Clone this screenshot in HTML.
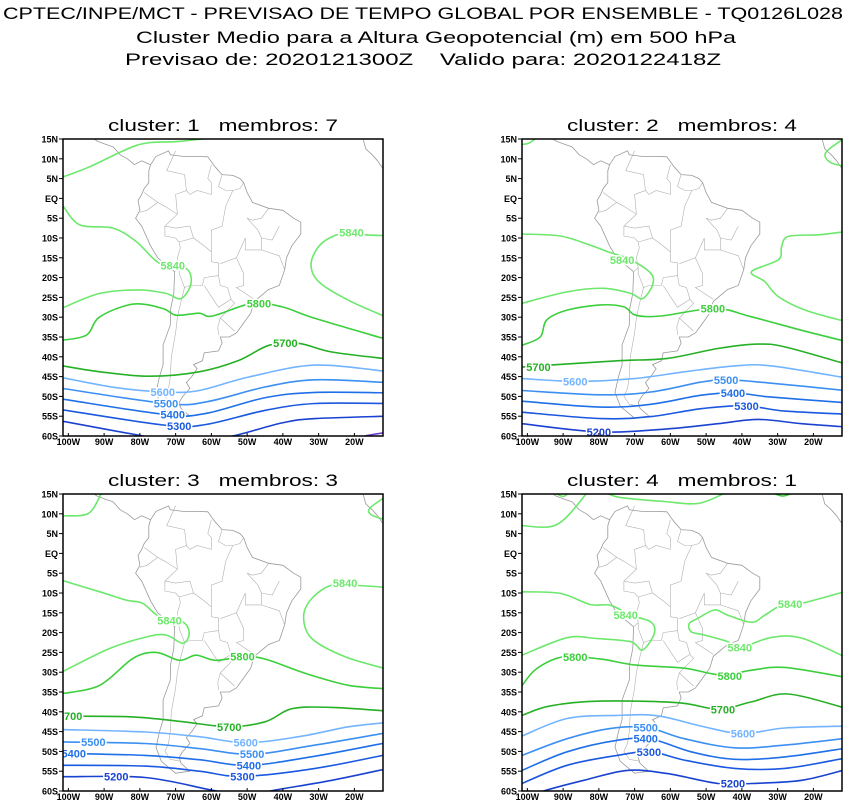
<!DOCTYPE html>
<html><head><meta charset="utf-8">
<style>
body{margin:0;background:#fff;}
svg{display:block;}
text{white-space:pre;}
</style></head>
<body>
<svg id="chart" width="847" height="803" viewBox="0 0 847 803" xmlns="http://www.w3.org/2000/svg" font-family="Liberation Sans, sans-serif">
<g text-anchor="middle" font-size="17" fill="#000">
<text x="423" y="19" textLength="840" lengthAdjust="spacingAndGlyphs">CPTEC/INPE/MCT - PREVISAO DE TEMPO GLOBAL POR ENSEMBLE - TQ0126L028</text>
<text x="436" y="43" textLength="600" lengthAdjust="spacingAndGlyphs">Cluster Medio para a Altura Geopotencial (m) em 500 hPa</text>
<text x="423" y="65" textLength="596" lengthAdjust="spacingAndGlyphs">Previsao de: 2020121300Z    Valido para: 2020122418Z</text>
</g>
<g id="panels"></g>
</svg>
<script>
// ---------- data ----------
const panelTitles = ["cluster: 1   membros: 7","cluster: 2   membros: 4","cluster: 3   membros: 3","cluster: 4   membros: 1"];
const latTicks = [15,10,5,0,-5,-10,-15,-20,-25,-30,-35,-40,-45,-50,-55,-60];
const latTickLabels = ["15N","10N","5N","EQ","5S","10S","15S","20S","25S","30S","35S","40S","45S","50S","55S","60S"];
const lonTicks = [-100,-90,-80,-70,-60,-50,-40,-30,-20];
const lonTickLabels = ["100W","90W","80W","70W","60W","50W","40W","30W","20W"];
const levelColors = {5840:"#6ce86c",5800:"#3ccf3c",5700:"#26b026",5600:"#72b4ff",5500:"#3c8ff2",5400:"#1f6fe8",5300:"#1a58e0",5200:"#1a42d0",5100:"#6a3cd0"};

const panel1Contours = [
 {level:5840, pts:[[-101.5,5.4],[-94,8],[-84,12.3],[-78,14],[-69,14.4],[-59,15.4]]},
 {level:5840, pts:[[-101.5,-1.9],[-96.8,-6.7],[-87.5,-7.5],[-81,-10.9],[-74.5,-16.4],[-67.1,-17.7],[-65.7,-21.5],[-68.5,-25.3],[-72.7,-24],[-80.1,-23.1],[-91.2,-24],[-101.5,-27.6]]},
 {level:5840, pts:[[-11,-9.4],[-17,-9.2],[-22.6,-8.6],[-29.1,-11.3],[-32.1,-16.4],[-30,-21],[-21.7,-25.7],[-11,-30]]},
 {level:5800, pts:[[-101.5,-35.8],[-94.9,-34.5],[-91.2,-29.9],[-81.9,-26.7],[-73.6,-27.8],[-69.9,-29.5],[-63.4,-29],[-59.7,-29.7],[-48.6,-26.5],[-40.2,-27.4],[-31,-30.3],[-11,-35.6]]},
 {level:5700, pts:[[-101.5,-42.3],[-91.2,-43.8],[-77.3,-44.9],[-63.4,-43.8],[-52.3,-40.9],[-43.9,-37.1],[-35.6,-36.6],[-26.3,-38.8],[-11,-40.5]]},
 {level:5600, pts:[[-101.5,-45.3],[-86.6,-47.8],[-72.7,-48.9],[-63.4,-48.5],[-49.5,-45.1],[-31,-42.1],[-11,-43.7]]},
 {level:5500, pts:[[-101.5,-48],[-72.7,-51.8],[-61.5,-51.4],[-44.9,-47.6],[-31,-45.8],[-11,-46.5]]},
 {level:5400, pts:[[-101.5,-50.7],[-72.7,-54.6],[-61.5,-54.3],[-44.9,-50.3],[-31,-49],[-11,-49.1]]},
 {level:5300, pts:[[-101.5,-53.4],[-72.7,-57.3],[-61.5,-57.1],[-44.9,-53.5],[-31,-51.8],[-11,-51.8]]},
 {level:5200, pts:[[-101.5,-56.3],[-79.1,-60],[-67,-61.8],[-54.1,-60],[-40.2,-56.7],[-31,-55.6],[-11,-55]]},
 {level:5100, pts:[[-20,-61],[-17,-60],[-11,-59.1]]}
];
const panel1Labels = [[5840,-70.8,-17],[5840,-20.8,-8.6],[5800,-46.7,-26.5],[5700,-39.3,-36.5],[5600,-73.6,-48.9],[5500,-72.7,-51.8],[5400,-70.8,-54.6],[5300,-69,-57.5]];

const panel2Contours = [
 {level:5840, pts:[[-101.5,13.6],[-99.5,14],[-97.4,15.3]]},
 {level:5840, pts:[[-11,15.4],[-15.8,12.3],[-16.7,10.6],[-14.8,8.9],[-11,8.1]]},
 {level:5840, pts:[[-101.5,-9],[-90.8,-9.5],[-82.4,-11.8],[-77.7,-13.4],[-71.1,-15.5],[-65.5,-18.9],[-65,-21.9],[-67.8,-25.3],[-71.1,-24],[-78.6,-22.7],[-88.9,-23.6],[-101.5,-26.5]]},
 {level:5840, pts:[[-11,-8.4],[-18.6,-9.2],[-27,-9.6],[-28.9,-12.2],[-29.8,-15.5],[-37.3,-18.5],[-33.6,-21],[-29.8,-24.8],[-22.3,-28.2],[-11,-31.1]]},
 {level:5800, pts:[[-101.5,-37.1],[-96.4,-35],[-94.6,-30.7],[-88.9,-28.2],[-79.5,-26.9],[-73,-27.4],[-69.7,-29.5],[-62.7,-29.7],[-47.7,-27.8],[-37.3,-29.9],[-23.3,-33.3],[-11,-36.1]]},
 {level:5700, pts:[[-101.5,-42.6],[-93.6,-42.1],[-74.9,-41],[-60.8,-40.4],[-46.7,-37.9],[-35.5,-36.8],[-28,-37.5],[-11,-41.8]]},
 {level:5600, pts:[[-101.5,-45.5],[-86.1,-46.2],[-70.2,-45.5],[-56.1,-43.8],[-42,-42.3],[-31.7,-42.3],[-11,-45.3]]},
 {level:5500, pts:[[-101.5,-48.5],[-79.5,-49.6],[-65.5,-48.9],[-51.4,-46.4],[-43.9,-45.8],[-32.6,-46.6],[-11,-48.5]]},
 {level:5400, pts:[[-101.5,-51.2],[-79.5,-52.7],[-65.5,-52],[-51.4,-49.7],[-42,-49.1],[-32.6,-50.1],[-11,-51.6]]},
 {level:5300, pts:[[-101.5,-54],[-79.5,-55.6],[-65.5,-55.1],[-51.4,-53.1],[-39.2,-52.4],[-27.9,-53.7],[-11,-54.5]]},
 {level:5200, pts:[[-101.5,-56.9],[-79.5,-59],[-60.8,-58.2],[-46.7,-56.9],[-35.5,-55.8],[-23.3,-56.9],[-11,-57.7]]}
];
const panel2Labels = [[5840,-73.5,-15.5],[5800,-48.1,-27.8],[5700,-96.9,-42.6],[5600,-86.6,-46.2],[5500,-44.4,-45.8],[5400,-42.5,-49.1],[5300,-38.7,-52.4],[5200,-80,-59]];

const panel3Contours = [
 {level:5840, pts:[[-101.5,9.5],[-94.4,10.1],[-90.7,15.3]]},
 {level:5840, pts:[[-11,14.5],[-15.7,11.4],[-15.2,9.7],[-11,8.4]]},
 {level:5840, pts:[[-101.5,-6.9],[-91.2,-9.7],[-83.8,-11.8],[-79.2,-12.6],[-74.5,-16],[-68,-17.3],[-66.2,-20.2],[-68,-22.7],[-72.7,-20.6],[-78.2,-21.1],[-88.4,-24],[-101.5,-29.8]]},
 {level:5840, pts:[[-11,-8.6],[-18.9,-8.1],[-26.3,-8],[-31.9,-11.4],[-34.2,-16],[-31.9,-21.5],[-22.6,-26.1],[-11,-29.2]]},
 {level:5800, pts:[[-101.5,-35.4],[-91.2,-33.3],[-81.9,-26.5],[-75.4,-25],[-68.9,-27],[-64.3,-25.7],[-58.8,-27],[-51.3,-26.1],[-44.9,-26.7],[-33.7,-30.3],[-21.7,-33.3],[-11,-34.2]]},
 {level:5700, pts:[[-101.5,-41.1],[-81.9,-41.3],[-68,-42.5],[-55.1,-43.8],[-44.9,-42.5],[-37.4,-39.2],[-26.3,-38.9],[-11,-39.8]]},
 {level:5600, pts:[[-101.5,-44.5],[-78.5,-45.1],[-63.4,-46.3],[-50.4,-47.8],[-35.6,-46.3],[-21.7,-43.8],[-11,-42.7]]},
 {level:5500, pts:[[-101.5,-47.6],[-78.5,-48],[-63.4,-49.3],[-48.6,-50.7],[-31,-48.4],[-11,-45.3]]},
 {level:5400, pts:[[-101.5,-50.5],[-78.5,-51],[-63.4,-52.1],[-49.5,-53.5],[-31,-51.2],[-11,-47.8]]},
 {level:5300, pts:[[-101.5,-53.5],[-78.5,-53.7],[-63.4,-55],[-51.3,-56.3],[-31,-54.3],[-11,-50.8]]},
 {level:5200, pts:[[-101.5,-56.4],[-78.5,-56.6],[-59.8,-59.8],[-50,-61.3],[-43,-59.9],[-26.3,-57.3],[-11,-54.4]]}
];
const panel3Labels = [[5840,-71.7,-17],[5840,-22.6,-7.5],[5800,-51.3,-26],[5700,-99.5,-41.1],[5700,-55,-43.8],[5500,-93,-47.6],[5600,-50.4,-47.8],[5400,-98.5,-50.5],[5500,-48.6,-50.7],[5400,-49.5,-53.5],[5200,-86.6,-56.4],[5300,-51.3,-56.3]];

const panel4Contours = [
 {level:5840, pts:[[-101.5,7],[-91.7,7.3],[-83.3,15.3]]},
 {level:5840, pts:[[-92.2,15.2],[-90,14.4],[-88.5,15.2]]},
 {level:5840, pts:[[-77.7,15.2],[-73.9,14.1],[-61.7,13.1],[-52.3,12.6],[-44.8,15.2]]},
 {level:5800, pts:[[-31.2,15.2],[-28.5,14.5],[-26,15.2]]},
 {level:5840, pts:[[-101.5,-9.7],[-90.8,-10.1],[-82.4,-12.9],[-76.7,-13.1],[-71.1,-15.6],[-65.5,-17.3],[-64.5,-20.2],[-67.8,-24.4],[-71.1,-22.3],[-80.7,-21.5],[-88.9,-21.3],[-101.5,-25.7]]},
 {level:5840, pts:[[-11,-9.6],[-23.3,-12.6],[-28.9,-13.1],[-33.6,-15.6],[-37.3,-17.4],[-43.9,-15.6],[-47.7,-14.3],[-52.3,-16.4],[-54.7,-17.7],[-54.2,-19.8],[-50.5,-20.6],[-43.9,-22.3],[-40.6,-23.8],[-31.7,-21.2],[-23.3,-21.4],[-11,-26.2]]},
 {level:5800, pts:[[-101.5,-33.4],[-97.4,-29.1],[-89.9,-26.1],[-79.5,-26.7],[-69.7,-28.2],[-56.1,-29],[-45.8,-30.7],[-37.3,-29.5],[-28,-28.8],[-11,-31.3]]},
 {level:5700, pts:[[-101.5,-40.9],[-93.6,-38.5],[-79.5,-37.3],[-58,-37.7],[-46.7,-39.3],[-37.3,-37.5],[-27,-35.5],[-11,-39.1]]},
 {level:5600, pts:[[-101.5,-46.1],[-88.9,-41.7],[-74.9,-40.9],[-63.6,-41],[-51.4,-43.6],[-40.1,-45.5],[-28,-44.1],[-11,-43.6]]},
 {level:5500, pts:[[-101.5,-51],[-88.9,-46.8],[-76.7,-44.2],[-66.4,-44],[-56.1,-46.8],[-42,-49.1],[-28,-48.4],[-11,-46.7]]},
 {level:5400, pts:[[-101.5,-54.8],[-88.9,-50.1],[-74.9,-47.2],[-65.5,-46.9],[-54.2,-50.1],[-42,-52],[-28,-51.4],[-11,-49.2]]},
 {level:5300, pts:[[-101.5,-58.1],[-88.9,-53.5],[-74.9,-51],[-65.5,-50.1],[-56.1,-52.2],[-42,-54.3],[-28,-54.3],[-11,-51.7]]},
 {level:5200, pts:[[-101,-61.8],[-95.5,-60],[-84.2,-57.3],[-72,-54.8],[-60.8,-55.6],[-46.7,-58.1],[-37.3,-58.1],[-23.3,-57.3],[-11,-54.6]]}
];
const panel4Labels = [[5840,-72.5,-15.6],[5840,-26.5,-12.8],[5840,-40.6,-23.8],[5800,-86.6,-26.1],[5800,-43.4,-30.9],[5700,-45.3,-39.4],[5600,-39.7,-45.5],[5500,-66.9,-44],[5400,-66.9,-46.8],[5300,-66,-50.1],[5200,-42.5,-58.1]];

const allContours = [panel1Contours,panel2Contours,panel3Contours,panel4Contours];
const allLabels = [panel1Labels,panel2Labels,panel3Labels,panel4Labels];

// map geometry (approximate coastlines / borders)
const coastSA = [[-77,8.5],[-75.5,10.6],[-72,12],[-71.5,11],[-68,10.6],[-64,10.6],[-61,10.5],[-59,8],[-57,6],[-54,5.8],[-52,5],[-51,4],[-50,1.5],[-48.5,-1],[-44,-2.5],[-40,-3],[-37,-5],[-35,-6],[-35,-9],[-37.5,-12],[-39,-15],[-39.5,-18],[-41,-22],[-44,-23],[-48,-26],[-49,-29],[-51,-31.5],[-53,-34],[-55,-35],[-57.5,-35],[-57,-36.5],[-58,-38.5],[-62,-39],[-62.5,-41],[-65,-42],[-64,-43],[-65.5,-45],[-67,-46.5],[-66,-48],[-68,-50],[-69,-51.5],[-68.5,-53],[-66,-55],[-70,-55.5],[-74,-52.5],[-75.5,-49],[-74.5,-45],[-73.5,-42],[-73.5,-37],[-71.5,-32],[-71.4,-28],[-70.5,-24],[-70.3,-18.5],[-75,-15],[-77,-12],[-79.5,-7],[-81.2,-5],[-80,-3],[-80.5,-0.5],[-79.5,1],[-78.8,2.5],[-77.5,4],[-77.5,7],[-77,8.5]];
const coastCA = [[-77,8.5],[-79.5,9.5],[-81.5,8.5],[-83.5,10],[-85.5,11],[-87.5,13],[-90,13.8],[-92,14.5],[-94.5,16]];
const coastCA2 = [[-83.3,15.5],[-86,15.9],[-88.5,15.8],[-88,17],[-87.5,19]];
const coastCuba = [[-85,21.9],[-82,23],[-78,22],[-75,20]];
const coastAfrica = [[-17.5,14.8],[-16.8,12.5],[-15,11],[-13.5,9.5],[-12,7.5]];
const borders = [
 [[-70,12],[-72.5,7],[-67.5,6],[-67,2],[-70,1],[-69.5,-4],[-73,-2],[-75,-1],[-78.8,1.5]],
 [[-60,8.5],[-61,5],[-60,4],[-60,1],[-64,2],[-66,1],[-67,2]],
 [[-57,6],[-58,3],[-56,2],[-54,2],[-52,2.5],[-51,4]],
 [[-80,-3.5],[-78,-3],[-75,-1]],
 [[-69.5,-4],[-73,-7],[-73,-9.5],[-70,-10],[-69,-11],[-68.7,-12.5],[-69.5,-15],[-69,-17.5],[-70.3,-18.5]],
 [[-69,-11],[-65,-10],[-62,-12],[-60,-13.5],[-60,-16],[-58,-16.3],[-58,-19.5],[-62,-20],[-62.5,-22],[-64,-22],[-66,-22],[-67.5,-22.5],[-69,-19],[-69,-17.5]],
 [[-58,-19.5],[-57.5,-22],[-55.5,-22.5],[-54.5,-25.5],[-58,-27.5],[-62,-22]],
 [[-54.5,-25.5],[-53.5,-26.5],[-57.5,-30.2],[-53.5,-33.5]],
 [[-67.5,-22.5],[-68.5,-26],[-69.5,-30],[-70,-34],[-71.2,-40],[-71.5,-45],[-72,-48],[-73,-50],[-71.5,-52],[-68.5,-52.5]],
 [[-58,-34.5],[-58.2,-32.5],[-57.5,-30.2]],
 [[-50,-5],[-47,-8],[-46,-10],[-46,-13],[-50.5,-13],[-50.5,-10],[-53,-15],[-57.5,-16.5]],
 [[-53,-15],[-51,-19],[-51,-22],[-53,-22.5],[-48,-25.5]],
 [[-46,-13],[-41,-14.5],[-39.5,-18]],
 [[-41,-7],[-43,-10.5],[-46,-10]],
 [[-65,-10],[-66,-7],[-70,-7.5],[-73,-7]],
 [[-60,-13.5],[-60,-8],[-57,-7],[-56,-2],[-54,2]],
 [[-44,-2.5],[-46,-5],[-48.5,-5.5],[-50,-5]]
];

// ---------- layout ----------
const panelOrigins = [[63,139],[522,139],[63,494],[522,494]];
const PW = 320, PH = 297;
const LON0 = -101.5, LON1 = -12, LAT0 = 15, LAT1 = -60;
const NS = "http://www.w3.org/2000/svg";

function xScale(ox, lon){ return ox + (lon - LON0) / (LON1 - LON0) * PW; }
function yScale(oy, lat){ return oy + (LAT0 - lat) / (LAT0 - LAT1) * PH; }

function smoothPath(p){
  if(p.length < 2) return "";
  let d = "M" + p[0][0].toFixed(1) + "," + p[0][1].toFixed(1);
  for(let i=0;i<p.length-1;i++){
    const p0 = p[i-1]||p[i], p1=p[i], p2=p[i+1], p3=p[i+2]||p[i+1];
    const c1x = p1[0]+(p2[0]-p0[0])/6, c1y = p1[1]+(p2[1]-p0[1])/6;
    const c2x = p2[0]-(p3[0]-p1[0])/6, c2y = p2[1]-(p3[1]-p1[1])/6;
    d += " C"+c1x.toFixed(1)+","+c1y.toFixed(1)+" "+c2x.toFixed(1)+","+c2y.toFixed(1)+" "+p2[0].toFixed(1)+","+p2[1].toFixed(1);
  }
  return d;
}
function polyPath(p){ return "M" + p.map(q=>q[0].toFixed(1)+","+q[1].toFixed(1)).join(" L"); }

const root = document.getElementById("panels");
for(let k=0;k<4;k++){
  const ox = panelOrigins[k][0], oy = panelOrigins[k][1];
  const g = document.createElementNS(NS,"g");
  
  
  root.appendChild(g);

  const title = document.createElementNS(NS,"text");
  title.setAttribute("x", ox + PW/2);
  title.setAttribute("y", oy - 8);
  title.setAttribute("text-anchor","middle");
  title.setAttribute("font-size","17");
  title.setAttribute("textLength","230");
  title.setAttribute("lengthAdjust","spacingAndGlyphs");
  title.textContent = panelTitles[k];
  
  
  g.appendChild(title);

  const cp = document.createElementNS(NS,"clipPath");
  cp.setAttribute("id","clip"+k);
  const cr = document.createElementNS(NS,"rect");
  cr.setAttribute("x",ox); cr.setAttribute("y",oy); cr.setAttribute("width",PW); cr.setAttribute("height",PH);
  cp.appendChild(cr); g.appendChild(cp);

  const inner = document.createElementNS(NS,"g");
  inner.setAttribute("clip-path","url(#clip"+k+")");
  
  
  g.appendChild(inner);

  const proj = pts => pts.map(q=>[xScale(ox,q[0]), yScale(oy,q[1])]);
  const geo = [coastSA, coastCA, coastCA2, coastCuba, coastAfrica].concat(borders);
  geo.forEach((line, i)=>{
    const p = document.createElementNS(NS,"path");
    p.setAttribute("d", polyPath(proj(line)));
    p.setAttribute("fill","none");
    p.setAttribute("stroke", i<5 ? "#9a9a9a" : "#b0b0b0");
    p.setAttribute("stroke-width", i<5 ? "0.8" : "0.6");
    
    
    inner.appendChild(p);
  });

  allContours[k].forEach(c=>{
    const p = document.createElementNS(NS,"path");
    p.setAttribute("d", smoothPath(proj(c.pts)));
    p.setAttribute("fill","none");
    p.setAttribute("stroke", levelColors[c.level]);
    p.setAttribute("stroke-width","1.6");
    
    
    inner.appendChild(p);
  });

  allLabels[k].forEach(l=>{
    const t = document.createElementNS(NS,"text");
    t.setAttribute("x", xScale(ox,l[1]));
    t.setAttribute("y", yScale(oy,l[2]) + 4);
    t.setAttribute("text-anchor","middle");
    t.setAttribute("font-size","11");
    t.setAttribute("font-weight","bold");
    t.setAttribute("fill", levelColors[l[0]]);
    t.setAttribute("stroke","#fff");
    t.setAttribute("stroke-width","3");
    t.setAttribute("paint-order","stroke");
    t.textContent = l[0];
    
    
    inner.appendChild(t);
  });

  const frame = document.createElementNS(NS,"rect");
  frame.setAttribute("x",ox); frame.setAttribute("y",oy); frame.setAttribute("width",PW); frame.setAttribute("height",PH);
  frame.setAttribute("fill","none"); frame.setAttribute("stroke","#000"); frame.setAttribute("stroke-width","1.5");
  
  
  g.appendChild(frame);

  latTicks.forEach((lat,i)=>{
    const y = yScale(oy,lat);
    const tk = document.createElementNS(NS,"line");
    tk.setAttribute("x1",ox-4); tk.setAttribute("x2",ox); tk.setAttribute("y1",y); tk.setAttribute("y2",y);
    tk.setAttribute("stroke","#000"); tk.setAttribute("stroke-width","1");
    
    
    g.appendChild(tk);
    const t = document.createElementNS(NS,"text");
    t.setAttribute("x", ox-5); t.setAttribute("y", y+3.5);
    t.setAttribute("text-anchor","end"); t.setAttribute("font-size","9"); t.setAttribute("font-weight","bold");
    t.textContent = latTickLabels[i];
    
    
    g.appendChild(t);
  });
  lonTicks.forEach((lon,i)=>{
    const x = xScale(ox,lon);
    const tk = document.createElementNS(NS,"line");
    tk.setAttribute("x1",x); tk.setAttribute("x2",x); tk.setAttribute("y1",oy+PH); tk.setAttribute("y2",oy+PH-3);
    tk.setAttribute("stroke","#000"); tk.setAttribute("stroke-width","1");
    
    
    g.appendChild(tk);
    const t = document.createElementNS(NS,"text");
    t.setAttribute("x", x); t.setAttribute("y", oy+PH+9);
    t.setAttribute("text-anchor","middle"); t.setAttribute("font-size","9"); t.setAttribute("font-weight","bold");
    t.textContent = lonTickLabels[i];
    
    
    g.appendChild(t);
  });
}
</script>
</body></html>
